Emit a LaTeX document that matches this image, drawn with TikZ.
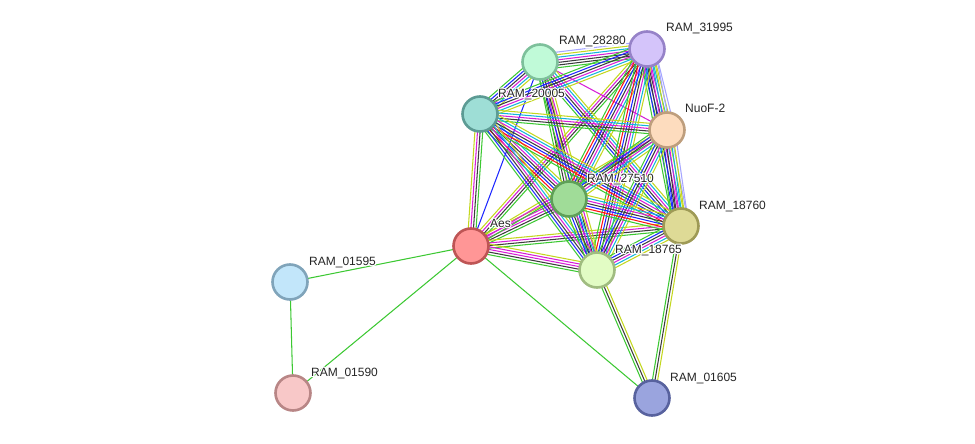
\documentclass[tikz,border=0pt]{standalone}
\usepackage{fontspec}
\setmainfont{Liberation Sans}
\usetikzlibrary{calc}
\definecolor{egr}{RGB}{60,200,50}
\definecolor{ere}{RGB}{255,20,20}
\definecolor{ebl}{RGB}{30,40,255}
\definecolor{ebk}{RGB}{60,60,60}
\definecolor{ema}{RGB}{215,30,215}
\definecolor{ecy}{RGB}{20,180,220}
\definecolor{eye}{RGB}{195,215,30}
\definecolor{ela}{RGB}{165,165,255}
\pgfdeclarelayer{bg}
\pgfsetlayers{bg,main}
\newcommand\medge[3]{%
  \foreach \ecol [count=\i] in {#3} {\xdef\enn{\i}}%
  \foreach \ecol [count=\i] in {#3} {%
    \pgfmathsetmacro\eoff{(\i-(\enn+1)/2)*2.6}%
    \draw[edge,draw=\ecol] ($(#1.center)!\eoff pt!90:(#2.center)$) -- ($(#2.center)!\eoff pt!-90:(#1.center)$);
  }}
\newcommand\halotxt[1]{\rlap{#1}\rlap{\special{pdf:literal direct q 1 Tr 1 1 1 RG 2.4 w 1 j}#1\special{pdf:literal direct Q}}#1}
\tikzset{
  prot/.style={circle, minimum size=35pt, inner sep=0pt, line width=2.6pt},
  lab/.style={anchor=base west, font=\fontsize{12}{14}\selectfont, text=black!85, inner sep=0pt},
  edge/.style={line width=1.05pt}
}
\begin{document}
\begin{tikzpicture}[x=1pt,y=-1pt]
\useasboundingbox (0,0) rectangle (975,444);
\node[prot, fill={rgb,255:red,192;green,250;blue,216}, draw={rgb,255:red,125;green,192;blue,155}] (n28280) at (540,62) {};
\node[prot, fill={rgb,255:red,212;green,196;blue,250}, draw={rgb,255:red,150;green,130;blue,200}] (n31995) at (647,49) {};
\node[prot, fill={rgb,255:red,158;green,222;blue,214}, draw={rgb,255:red,92;green,155;blue,148}] (n20005) at (480,114) {};
\node[prot, fill={rgb,255:red,253;green,220;blue,190}, draw={rgb,255:red,190;green,158;blue,125}] (nNuoF) at (667,130) {};
\node[prot, fill={rgb,255:red,160;green,220;blue,152}, draw={rgb,255:red,95;green,160;blue,88}] (n27510) at (569,199) {};
\node[prot, fill={rgb,255:red,222;green,218;blue,150}, draw={rgb,255:red,158;green,154;blue,86}] (n18760) at (681,226) {};
\node[prot, fill={rgb,255:red,255;green,150;blue,150}, draw={rgb,255:red,190;green,85;blue,85}] (nAes) at (471,246) {};
\node[prot, fill={rgb,255:red,226;green,252;blue,196}, draw={rgb,255:red,160;green,188;blue,128}] (n18765) at (597,270) {};
\node[prot, fill={rgb,255:red,194;green,230;blue,250}, draw={rgb,255:red,128;green,164;blue,186}] (n01595) at (290,282) {};
\node[prot, fill={rgb,255:red,248;green,200;blue,200}, draw={rgb,255:red,184;green,134;blue,134}] (n01590) at (293,393) {};
\node[prot, fill={rgb,255:red,154;green,164;blue,222}, draw={rgb,255:red,88;green,98;blue,158}] (n01605) at (652,398) {};

\node[lab] (l28280) at ($(n28280.center)+(19,-17)$) {\halotxt{RAM\_28280}};
\node[lab] (l31995) at ($(n31995.center)+(19,-17)$) {\halotxt{RAM\_31995}};
\node[lab] (l20005) at ($(n20005.center)+(18,-17)$) {\halotxt{RAM\_20005}};
\node[lab] (lNuoF) at ($(nNuoF.center)+(18,-17)$) {\halotxt{NuoF-2}};
\node[lab] (l27510) at ($(n27510.center)+(18,-17)$) {\halotxt{RAM\_27510}};
\node[lab] (l18760) at ($(n18760.center)+(18,-17)$) {\halotxt{RAM\_18760}};
\node[lab] (lAes) at ($(nAes.center)+(19,-19)$) {\halotxt{Aes}};
\node[lab] (l18765) at ($(n18765.center)+(18,-17)$) {\halotxt{RAM\_18765}};
\node[lab] (l01595) at ($(n01595.center)+(19,-17)$) {\halotxt{RAM\_01595}};
\node[lab] (l01590) at ($(n01590.center)+(18,-17)$) {\halotxt{RAM\_01590}};
\node[lab] (l01605) at ($(n01605.center)+(18,-17)$) {\halotxt{RAM\_01605}};

\begin{pgfonlayer}{bg}
\medge{nAes}{n01595}{egr}
\medge{nAes}{n01590}{egr}
\medge{n01595}{n01590}{egr}
\medge{nAes}{n01605}{egr}
\medge{n18765}{n01605}{egr,ebk,eye}
\medge{n18760}{n01605}{egr,ebk,eye}
\medge{nAes}{n20005}{egr,ebk,ema,eye}
\medge{nAes}{n28280}{ebl}
\medge{nAes}{n27510}{egr,ebk,ema,ema,eye}
\medge{nAes}{n31995}{egr,ebk,ema,eye}
\medge{nAes}{nNuoF}{egr,ema,eye}
\medge{nAes}{n18760}{egr,ebk,ema,eye}
\medge{nAes}{n18765}{egr,ebk,ema,ema,eye}
\medge{n28280}{n31995}{egr,ebk,ebk,ema,ecy,eye,ela}
\medge{n28280}{n20005}{egr,ebl,ebk,ema,ecy,eye}
\medge{n28280}{nNuoF}{ema}
\medge{n28280}{n27510}{egr,ebk,ema,eye}
\medge{n28280}{n18760}{egr,ebl,ebk,ema,ecy,eye}
\medge{n28280}{n18765}{egr,ebl,ebk,ema,eye}
\medge{n31995}{n20005}{egr,ebl,ebk,ema,ecy,eye}
\medge{n31995}{nNuoF}{egr,ebl,ebk,ema,ecy,eye,ela}
\medge{n31995}{n27510}{egr,ere,ebl,ebk,ema,ecy,eye}
\medge{n31995}{n18760}{egr,ebl,ebk,ema,ecy,eye,ela}
\medge{n31995}{n18765}{egr,ere,ebl,ebk,ema,ecy,eye}
\medge{n20005}{nNuoF}{egr,ebk,ema,ecy,eye}
\medge{n20005}{n27510}{egr,ere,ebl,ebk,ema,ecy,eye}
\medge{n20005}{n18760}{egr,ere,ebl,ebk,ema,ecy,eye}
\medge{n20005}{n18765}{egr,ebl,ebk,ema,ecy,eye}
\medge{nNuoF}{n27510}{egr,ebl,ebk,ema,ecy,eye}
\medge{nNuoF}{n18760}{egr,ebl,ebk,ema,ecy,eye,ela}
\medge{nNuoF}{n18765}{egr,ebl,ebk,ema,ecy,eye}
\medge{n27510}{n18760}{egr,ere,ebl,ebk,ema,ecy,eye}
\medge{n27510}{n18765}{egr,ebl,ebk,ema,ecy,eye}
\medge{n18760}{n18765}{egr,ebl,ebk,ema,ecy,eye}
\end{pgfonlayer}
\end{tikzpicture}
\end{document}
